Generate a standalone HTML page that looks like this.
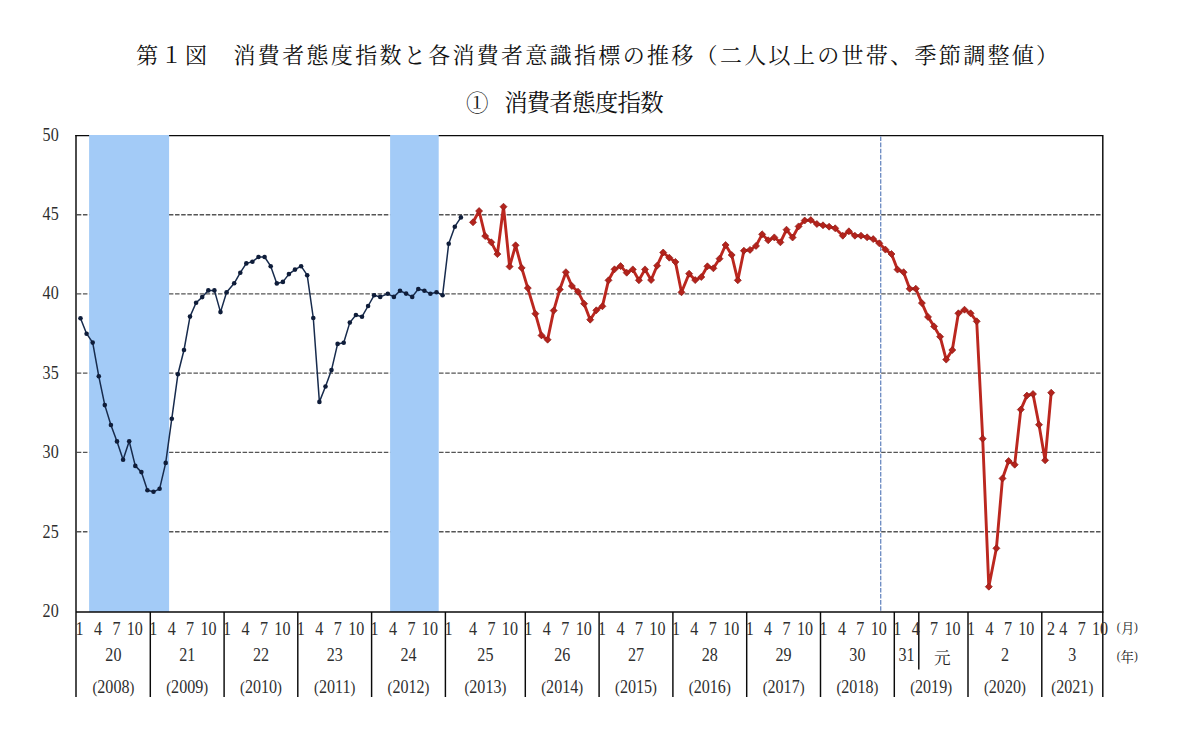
<!DOCTYPE html>
<html lang="ja"><head><meta charset="utf-8"><title>第１図 消費者態度指数</title>
<style>html,body{margin:0;padding:0;background:#fff}body{width:1200px;height:731px;overflow:hidden;font-family:"Liberation Serif",serif}</style>
</head><body>
<svg width="1200" height="731" viewBox="0 0 1200 731" style="display:block">
<rect width="1200" height="731" fill="#fff"/>
<g stroke="#555" stroke-width="1.35" stroke-dasharray="4.5 1.64" fill="none">
<path d="M76.8 214.7H1102.8"/>
<path d="M76.8 293.9H1102.8"/>
<path d="M76.8 373.1H1102.8"/>
<path d="M76.8 452.4H1102.8"/>
<path d="M76.8 531.7H1102.8"/>
</g>
<path d="M75.3 135.6H1102.8V697.0" fill="none" stroke="#0a0a0a" stroke-width="1.45"/>
<rect x="89.1" y="135.0" width="80.0" height="477.0" fill="#a3cbf7"/>
<rect x="390.1" y="135.0" width="48.6" height="477.0" fill="#a3cbf7"/>
<path d="M76.0 134.9V697.0M75.3 612.0H1103.5" fill="none" stroke="#0a0a0a" stroke-width="1.45"/>
<path d="M150.3 612.0V697M224.1 612.0V697M297.8 612.0V697M371.6 612.0V697M445.4 612.0V697M525.3 612.0V697M599.1 612.0V697M672.9 612.0V697M746.7 612.0V697M820.5 612.0V697M894.3 612.0V697M968.0 612.0V697M1041.8 612.0V697M918.8 612.0V669.5" fill="none" stroke="#0a0a0a" stroke-width="1.45"/>
<path d="M880.75 136.5V611" fill="none" stroke="#4f74b6" stroke-width="1.1" stroke-dasharray="4.6 1.5"/>
<polyline fill="none" stroke="#172b4d" stroke-width="1.5" stroke-linejoin="round" points="80.5,318.2 86.6,333.7 92.7,342.6 98.8,376.3 104.8,405.1 110.9,425.0 117.0,441.4 123.1,459.8 129.2,441.2 135.3,465.9 141.4,472.1 147.4,490.3 153.5,491.8 159.6,488.8 165.7,462.9 171.8,418.7 177.9,374.3 184.0,350.0 190.0,316.6 196.1,302.8 202.2,297.1 208.3,290.4 214.4,290.4 220.5,312.1 226.6,292.3 234.2,283.3 240.3,272.7 246.3,263.4 252.4,261.7 258.5,257.0 264.6,257.0 270.7,266.2 276.8,283.4 282.9,281.9 288.9,274.1 295.0,269.6 301.1,266.2 307.2,275.2 313.3,318.0 319.4,401.9 325.5,386.5 331.5,370.1 337.6,343.9 343.7,342.8 349.8,322.6 355.9,315.0 362.0,316.7 368.1,306.0 374.1,295.3 380.2,296.9 387.8,293.8 393.9,296.9 400.0,290.7 406.1,293.6 412.2,296.9 418.3,289.0 424.4,290.7 430.4,293.8 436.5,292.2 442.6,295.2 448.7,243.7 454.8,226.7 460.9,217.4"/>
<g fill="#0f1d3a"><circle cx="80.5" cy="318.2" r="2.3"/><circle cx="86.6" cy="333.7" r="2.3"/><circle cx="92.7" cy="342.6" r="2.3"/><circle cx="98.8" cy="376.3" r="2.3"/><circle cx="104.8" cy="405.1" r="2.3"/><circle cx="110.9" cy="425.0" r="2.3"/><circle cx="117.0" cy="441.4" r="2.3"/><circle cx="123.1" cy="459.8" r="2.3"/><circle cx="129.2" cy="441.2" r="2.3"/><circle cx="135.3" cy="465.9" r="2.3"/><circle cx="141.4" cy="472.1" r="2.3"/><circle cx="147.4" cy="490.3" r="2.3"/><circle cx="153.5" cy="491.8" r="2.3"/><circle cx="159.6" cy="488.8" r="2.3"/><circle cx="165.7" cy="462.9" r="2.3"/><circle cx="171.8" cy="418.7" r="2.3"/><circle cx="177.9" cy="374.3" r="2.3"/><circle cx="184.0" cy="350.0" r="2.3"/><circle cx="190.0" cy="316.6" r="2.3"/><circle cx="196.1" cy="302.8" r="2.3"/><circle cx="202.2" cy="297.1" r="2.3"/><circle cx="208.3" cy="290.4" r="2.3"/><circle cx="214.4" cy="290.4" r="2.3"/><circle cx="220.5" cy="312.1" r="2.3"/><circle cx="226.6" cy="292.3" r="2.3"/><circle cx="234.2" cy="283.3" r="2.3"/><circle cx="240.3" cy="272.7" r="2.3"/><circle cx="246.3" cy="263.4" r="2.3"/><circle cx="252.4" cy="261.7" r="2.3"/><circle cx="258.5" cy="257.0" r="2.3"/><circle cx="264.6" cy="257.0" r="2.3"/><circle cx="270.7" cy="266.2" r="2.3"/><circle cx="276.8" cy="283.4" r="2.3"/><circle cx="282.9" cy="281.9" r="2.3"/><circle cx="288.9" cy="274.1" r="2.3"/><circle cx="295.0" cy="269.6" r="2.3"/><circle cx="301.1" cy="266.2" r="2.3"/><circle cx="307.2" cy="275.2" r="2.3"/><circle cx="313.3" cy="318.0" r="2.3"/><circle cx="319.4" cy="401.9" r="2.3"/><circle cx="325.5" cy="386.5" r="2.3"/><circle cx="331.5" cy="370.1" r="2.3"/><circle cx="337.6" cy="343.9" r="2.3"/><circle cx="343.7" cy="342.8" r="2.3"/><circle cx="349.8" cy="322.6" r="2.3"/><circle cx="355.9" cy="315.0" r="2.3"/><circle cx="362.0" cy="316.7" r="2.3"/><circle cx="368.1" cy="306.0" r="2.3"/><circle cx="374.1" cy="295.3" r="2.3"/><circle cx="380.2" cy="296.9" r="2.3"/><circle cx="387.8" cy="293.8" r="2.3"/><circle cx="393.9" cy="296.9" r="2.3"/><circle cx="400.0" cy="290.7" r="2.3"/><circle cx="406.1" cy="293.6" r="2.3"/><circle cx="412.2" cy="296.9" r="2.3"/><circle cx="418.3" cy="289.0" r="2.3"/><circle cx="424.4" cy="290.7" r="2.3"/><circle cx="430.4" cy="293.8" r="2.3"/><circle cx="436.5" cy="292.2" r="2.3"/><circle cx="442.6" cy="295.2" r="2.3"/><circle cx="448.7" cy="243.7" r="2.3"/><circle cx="454.8" cy="226.7" r="2.3"/><circle cx="460.9" cy="217.4" r="2.3"/></g>
<polyline fill="none" stroke="#bb271f" stroke-width="2.9" stroke-linejoin="round" points="473.0,222.3 479.1,211.0 485.2,236.1 491.3,242.3 497.4,254.1 503.5,206.7 509.6,266.6 515.6,245.3 521.7,267.9 527.8,288.1 535.4,313.7 541.5,335.4 547.6,339.7 553.7,310.6 559.8,289.4 565.9,272.2 571.9,286.0 578.0,291.7 584.1,303.7 590.2,319.7 596.3,310.3 602.4,306.3 608.5,280.3 614.5,269.3 620.6,266.1 626.7,272.7 632.8,269.4 638.9,280.3 645.0,269.4 651.1,280.0 657.1,265.7 663.2,252.5 669.3,257.7 675.4,261.9 681.5,292.3 689.1,273.7 695.2,280.1 701.3,277.0 707.4,266.3 713.4,268.3 719.5,258.7 725.6,245.0 731.7,255.0 737.8,280.3 743.9,250.7 750.0,249.9 756.0,245.9 762.1,234.3 768.2,240.3 774.3,237.4 780.4,242.3 786.5,229.7 792.6,237.5 798.6,226.4 804.7,220.5 810.8,220.1 816.9,224.0 823.0,225.3 829.1,226.7 835.2,228.3 842.8,235.7 848.9,231.3 854.9,235.7 861.0,235.7 867.1,237.3 873.2,239.1 879.3,243.3 885.4,249.6 891.5,254.0 897.5,269.6 903.6,272.2 909.7,288.8 915.8,288.7 921.9,303.1 928.0,316.9 934.1,326.4 940.1,336.7 946.2,359.6 952.3,350.0 958.4,313.3 964.5,309.7 970.6,313.3 976.7,321.3 982.7,438.7 988.8,586.7 996.4,548.3 1002.5,478.4 1008.6,461.0 1014.7,464.7 1020.8,409.6 1026.9,395.6 1033.0,394.0 1039.0,424.7 1045.1,460.3 1051.2,392.7"/>
<path fill="#b3231c" stroke="#8e1a15" stroke-width="0.7" stroke-linejoin="miter" d="M473.0 218.8l3.5 3.5l-3.5 3.5l-3.5 -3.5zM479.1 207.5l3.5 3.5l-3.5 3.5l-3.5 -3.5zM485.2 232.6l3.5 3.5l-3.5 3.5l-3.5 -3.5zM491.3 238.8l3.5 3.5l-3.5 3.5l-3.5 -3.5zM497.4 250.6l3.5 3.5l-3.5 3.5l-3.5 -3.5zM503.5 203.2l3.5 3.5l-3.5 3.5l-3.5 -3.5zM509.6 263.1l3.5 3.5l-3.5 3.5l-3.5 -3.5zM515.6 241.8l3.5 3.5l-3.5 3.5l-3.5 -3.5zM521.7 264.4l3.5 3.5l-3.5 3.5l-3.5 -3.5zM527.8 284.6l3.5 3.5l-3.5 3.5l-3.5 -3.5zM535.4 310.2l3.5 3.5l-3.5 3.5l-3.5 -3.5zM541.5 331.9l3.5 3.5l-3.5 3.5l-3.5 -3.5zM547.6 336.2l3.5 3.5l-3.5 3.5l-3.5 -3.5zM553.7 307.1l3.5 3.5l-3.5 3.5l-3.5 -3.5zM559.8 285.9l3.5 3.5l-3.5 3.5l-3.5 -3.5zM565.9 268.7l3.5 3.5l-3.5 3.5l-3.5 -3.5zM571.9 282.5l3.5 3.5l-3.5 3.5l-3.5 -3.5zM578.0 288.2l3.5 3.5l-3.5 3.5l-3.5 -3.5zM584.1 300.2l3.5 3.5l-3.5 3.5l-3.5 -3.5zM590.2 316.2l3.5 3.5l-3.5 3.5l-3.5 -3.5zM596.3 306.8l3.5 3.5l-3.5 3.5l-3.5 -3.5zM602.4 302.8l3.5 3.5l-3.5 3.5l-3.5 -3.5zM608.5 276.8l3.5 3.5l-3.5 3.5l-3.5 -3.5zM614.5 265.8l3.5 3.5l-3.5 3.5l-3.5 -3.5zM620.6 262.6l3.5 3.5l-3.5 3.5l-3.5 -3.5zM626.7 269.2l3.5 3.5l-3.5 3.5l-3.5 -3.5zM632.8 265.9l3.5 3.5l-3.5 3.5l-3.5 -3.5zM638.9 276.8l3.5 3.5l-3.5 3.5l-3.5 -3.5zM645.0 265.9l3.5 3.5l-3.5 3.5l-3.5 -3.5zM651.1 276.5l3.5 3.5l-3.5 3.5l-3.5 -3.5zM657.1 262.2l3.5 3.5l-3.5 3.5l-3.5 -3.5zM663.2 249.0l3.5 3.5l-3.5 3.5l-3.5 -3.5zM669.3 254.2l3.5 3.5l-3.5 3.5l-3.5 -3.5zM675.4 258.4l3.5 3.5l-3.5 3.5l-3.5 -3.5zM681.5 288.8l3.5 3.5l-3.5 3.5l-3.5 -3.5zM689.1 270.2l3.5 3.5l-3.5 3.5l-3.5 -3.5zM695.2 276.6l3.5 3.5l-3.5 3.5l-3.5 -3.5zM701.3 273.5l3.5 3.5l-3.5 3.5l-3.5 -3.5zM707.4 262.8l3.5 3.5l-3.5 3.5l-3.5 -3.5zM713.4 264.8l3.5 3.5l-3.5 3.5l-3.5 -3.5zM719.5 255.2l3.5 3.5l-3.5 3.5l-3.5 -3.5zM725.6 241.5l3.5 3.5l-3.5 3.5l-3.5 -3.5zM731.7 251.5l3.5 3.5l-3.5 3.5l-3.5 -3.5zM737.8 276.8l3.5 3.5l-3.5 3.5l-3.5 -3.5zM743.9 247.2l3.5 3.5l-3.5 3.5l-3.5 -3.5zM750.0 246.4l3.5 3.5l-3.5 3.5l-3.5 -3.5zM756.0 242.4l3.5 3.5l-3.5 3.5l-3.5 -3.5zM762.1 230.8l3.5 3.5l-3.5 3.5l-3.5 -3.5zM768.2 236.8l3.5 3.5l-3.5 3.5l-3.5 -3.5zM774.3 233.9l3.5 3.5l-3.5 3.5l-3.5 -3.5zM780.4 238.8l3.5 3.5l-3.5 3.5l-3.5 -3.5zM786.5 226.2l3.5 3.5l-3.5 3.5l-3.5 -3.5zM792.6 234.0l3.5 3.5l-3.5 3.5l-3.5 -3.5zM798.6 222.9l3.5 3.5l-3.5 3.5l-3.5 -3.5zM804.7 217.0l3.5 3.5l-3.5 3.5l-3.5 -3.5zM810.8 216.6l3.5 3.5l-3.5 3.5l-3.5 -3.5zM816.9 220.5l3.5 3.5l-3.5 3.5l-3.5 -3.5zM823.0 221.8l3.5 3.5l-3.5 3.5l-3.5 -3.5zM829.1 223.2l3.5 3.5l-3.5 3.5l-3.5 -3.5zM835.2 224.8l3.5 3.5l-3.5 3.5l-3.5 -3.5zM842.8 232.2l3.5 3.5l-3.5 3.5l-3.5 -3.5zM848.9 227.8l3.5 3.5l-3.5 3.5l-3.5 -3.5zM854.9 232.2l3.5 3.5l-3.5 3.5l-3.5 -3.5zM861.0 232.2l3.5 3.5l-3.5 3.5l-3.5 -3.5zM867.1 233.8l3.5 3.5l-3.5 3.5l-3.5 -3.5zM873.2 235.6l3.5 3.5l-3.5 3.5l-3.5 -3.5zM879.3 239.8l3.5 3.5l-3.5 3.5l-3.5 -3.5zM885.4 246.1l3.5 3.5l-3.5 3.5l-3.5 -3.5zM891.5 250.5l3.5 3.5l-3.5 3.5l-3.5 -3.5zM897.5 266.1l3.5 3.5l-3.5 3.5l-3.5 -3.5zM903.6 268.7l3.5 3.5l-3.5 3.5l-3.5 -3.5zM909.7 285.3l3.5 3.5l-3.5 3.5l-3.5 -3.5zM915.8 285.2l3.5 3.5l-3.5 3.5l-3.5 -3.5zM921.9 299.6l3.5 3.5l-3.5 3.5l-3.5 -3.5zM928.0 313.4l3.5 3.5l-3.5 3.5l-3.5 -3.5zM934.1 322.9l3.5 3.5l-3.5 3.5l-3.5 -3.5zM940.1 333.2l3.5 3.5l-3.5 3.5l-3.5 -3.5zM946.2 356.1l3.5 3.5l-3.5 3.5l-3.5 -3.5zM952.3 346.5l3.5 3.5l-3.5 3.5l-3.5 -3.5zM958.4 309.8l3.5 3.5l-3.5 3.5l-3.5 -3.5zM964.5 306.2l3.5 3.5l-3.5 3.5l-3.5 -3.5zM970.6 309.8l3.5 3.5l-3.5 3.5l-3.5 -3.5zM976.7 317.8l3.5 3.5l-3.5 3.5l-3.5 -3.5zM982.7 435.2l3.5 3.5l-3.5 3.5l-3.5 -3.5zM988.8 583.2l3.5 3.5l-3.5 3.5l-3.5 -3.5zM996.4 544.8l3.5 3.5l-3.5 3.5l-3.5 -3.5zM1002.5 474.9l3.5 3.5l-3.5 3.5l-3.5 -3.5zM1008.6 457.5l3.5 3.5l-3.5 3.5l-3.5 -3.5zM1014.7 461.2l3.5 3.5l-3.5 3.5l-3.5 -3.5zM1020.8 406.1l3.5 3.5l-3.5 3.5l-3.5 -3.5zM1026.9 392.1l3.5 3.5l-3.5 3.5l-3.5 -3.5zM1033.0 390.5l3.5 3.5l-3.5 3.5l-3.5 -3.5zM1039.0 421.2l3.5 3.5l-3.5 3.5l-3.5 -3.5zM1045.1 456.8l3.5 3.5l-3.5 3.5l-3.5 -3.5zM1051.2 389.2l3.5 3.5l-3.5 3.5l-3.5 -3.5z"/>
<g fill="#111" font-family="'Liberation Serif', 'Noto Serif CJK SC', serif">
<text x="136.25" y="62.8" font-size="22" letter-spacing="2.32">第１図　消費者態度指数と各消費者意識指標の推移（二人以上の世帯、季節調整値）</text>
</g>
<g fill="#111" font-family="'Liberation Serif', 'Noto Serif CJK SC', serif">
<text x="466.1" y="110.5" font-size="22.5">①</text>
<text x="504.2" y="111.1" font-size="23.4" letter-spacing="-0.73">消費者態度指数</text>
</g>
<g font-family="'Liberation Serif', serif" fill="#2e2e2e">
<text transform="translate(58.7 140.6) scale(0.870 1)" text-anchor="end" font-size="18.5">50</text>
<text transform="translate(58.7 220.0) scale(0.870 1)" text-anchor="end" font-size="18.5">45</text>
<text transform="translate(58.7 299.4) scale(0.870 1)" text-anchor="end" font-size="18.5">40</text>
<text transform="translate(58.7 378.8) scale(0.870 1)" text-anchor="end" font-size="18.5">35</text>
<text transform="translate(58.7 458.2) scale(0.870 1)" text-anchor="end" font-size="18.5">30</text>
<text transform="translate(58.7 537.6) scale(0.870 1)" text-anchor="end" font-size="18.5">25</text>
<text transform="translate(58.7 617.0) scale(0.870 1)" text-anchor="end" font-size="18.5">20</text>
<text transform="translate(79.5 634.7) scale(0.870 1)" text-anchor="middle" font-size="18.5">1</text>
<text transform="translate(97.9 634.7) scale(0.870 1)" text-anchor="middle" font-size="18.5">4</text>
<text transform="translate(116.4 634.7) scale(0.870 1)" text-anchor="middle" font-size="18.5">7</text>
<text transform="translate(134.8 634.7) scale(0.870 1)" text-anchor="middle" font-size="18.5">10</text>
<text transform="translate(153.3 634.7) scale(0.870 1)" text-anchor="middle" font-size="18.5">1</text>
<text transform="translate(171.7 634.7) scale(0.870 1)" text-anchor="middle" font-size="18.5">4</text>
<text transform="translate(190.1 634.7) scale(0.870 1)" text-anchor="middle" font-size="18.5">7</text>
<text transform="translate(208.6 634.7) scale(0.870 1)" text-anchor="middle" font-size="18.5">10</text>
<text transform="translate(227.0 634.7) scale(0.870 1)" text-anchor="middle" font-size="18.5">1</text>
<text transform="translate(245.5 634.7) scale(0.870 1)" text-anchor="middle" font-size="18.5">4</text>
<text transform="translate(263.9 634.7) scale(0.870 1)" text-anchor="middle" font-size="18.5">7</text>
<text transform="translate(282.4 634.7) scale(0.870 1)" text-anchor="middle" font-size="18.5">10</text>
<text transform="translate(300.8 634.7) scale(0.870 1)" text-anchor="middle" font-size="18.5">1</text>
<text transform="translate(319.3 634.7) scale(0.870 1)" text-anchor="middle" font-size="18.5">4</text>
<text transform="translate(337.7 634.7) scale(0.870 1)" text-anchor="middle" font-size="18.5">7</text>
<text transform="translate(356.2 634.7) scale(0.870 1)" text-anchor="middle" font-size="18.5">10</text>
<text transform="translate(374.6 634.7) scale(0.870 1)" text-anchor="middle" font-size="18.5">1</text>
<text transform="translate(393.0 634.7) scale(0.870 1)" text-anchor="middle" font-size="18.5">4</text>
<text transform="translate(411.5 634.7) scale(0.870 1)" text-anchor="middle" font-size="18.5">7</text>
<text transform="translate(429.9 634.7) scale(0.870 1)" text-anchor="middle" font-size="18.5">10</text>
<text transform="translate(448.4 634.7) scale(0.870 1)" text-anchor="middle" font-size="18.5">1</text>
<text transform="translate(473.0 634.7) scale(0.870 1)" text-anchor="middle" font-size="18.5">4</text>
<text transform="translate(491.4 634.7) scale(0.870 1)" text-anchor="middle" font-size="18.5">7</text>
<text transform="translate(509.9 634.7) scale(0.870 1)" text-anchor="middle" font-size="18.5">10</text>
<text transform="translate(528.3 634.7) scale(0.870 1)" text-anchor="middle" font-size="18.5">1</text>
<text transform="translate(546.8 634.7) scale(0.870 1)" text-anchor="middle" font-size="18.5">4</text>
<text transform="translate(565.2 634.7) scale(0.870 1)" text-anchor="middle" font-size="18.5">7</text>
<text transform="translate(583.7 634.7) scale(0.870 1)" text-anchor="middle" font-size="18.5">10</text>
<text transform="translate(602.1 634.7) scale(0.870 1)" text-anchor="middle" font-size="18.5">1</text>
<text transform="translate(620.5 634.7) scale(0.870 1)" text-anchor="middle" font-size="18.5">4</text>
<text transform="translate(639.0 634.7) scale(0.870 1)" text-anchor="middle" font-size="18.5">7</text>
<text transform="translate(657.4 634.7) scale(0.870 1)" text-anchor="middle" font-size="18.5">10</text>
<text transform="translate(675.9 634.7) scale(0.870 1)" text-anchor="middle" font-size="18.5">1</text>
<text transform="translate(694.3 634.7) scale(0.870 1)" text-anchor="middle" font-size="18.5">4</text>
<text transform="translate(712.8 634.7) scale(0.870 1)" text-anchor="middle" font-size="18.5">7</text>
<text transform="translate(731.2 634.7) scale(0.870 1)" text-anchor="middle" font-size="18.5">10</text>
<text transform="translate(749.7 634.7) scale(0.870 1)" text-anchor="middle" font-size="18.5">1</text>
<text transform="translate(768.1 634.7) scale(0.870 1)" text-anchor="middle" font-size="18.5">4</text>
<text transform="translate(786.6 634.7) scale(0.870 1)" text-anchor="middle" font-size="18.5">7</text>
<text transform="translate(805.0 634.7) scale(0.870 1)" text-anchor="middle" font-size="18.5">10</text>
<text transform="translate(823.4 634.7) scale(0.870 1)" text-anchor="middle" font-size="18.5">1</text>
<text transform="translate(841.9 634.7) scale(0.870 1)" text-anchor="middle" font-size="18.5">4</text>
<text transform="translate(860.3 634.7) scale(0.870 1)" text-anchor="middle" font-size="18.5">7</text>
<text transform="translate(878.8 634.7) scale(0.870 1)" text-anchor="middle" font-size="18.5">10</text>
<text transform="translate(897.2 634.7) scale(0.870 1)" text-anchor="middle" font-size="18.5">1</text>
<text transform="translate(915.7 634.7) scale(0.870 1)" text-anchor="middle" font-size="18.5">4</text>
<text transform="translate(934.1 634.7) scale(0.870 1)" text-anchor="middle" font-size="18.5">7</text>
<text transform="translate(952.6 634.7) scale(0.870 1)" text-anchor="middle" font-size="18.5">10</text>
<text transform="translate(971.0 634.7) scale(0.870 1)" text-anchor="middle" font-size="18.5">1</text>
<text transform="translate(989.5 634.7) scale(0.870 1)" text-anchor="middle" font-size="18.5">4</text>
<text transform="translate(1007.9 634.7) scale(0.870 1)" text-anchor="middle" font-size="18.5">7</text>
<text transform="translate(1026.3 634.7) scale(0.870 1)" text-anchor="middle" font-size="18.5">10</text>
<text transform="translate(1050.9 634.7) scale(0.870 1)" text-anchor="middle" font-size="18.5">2</text>
<text transform="translate(1063.2 634.7) scale(0.870 1)" text-anchor="middle" font-size="18.5">4</text>
<text transform="translate(1081.7 634.7) scale(0.870 1)" text-anchor="middle" font-size="18.5">7</text>
<text transform="translate(1100.1 634.7) scale(0.870 1)" text-anchor="middle" font-size="18.5">10</text>
<text transform="translate(113.4 661.3) scale(0.870 1)" text-anchor="middle" font-size="18.5">20</text>
<text transform="translate(187.2 661.3) scale(0.870 1)" text-anchor="middle" font-size="18.5">21</text>
<text transform="translate(261.0 661.3) scale(0.870 1)" text-anchor="middle" font-size="18.5">22</text>
<text transform="translate(334.7 661.3) scale(0.870 1)" text-anchor="middle" font-size="18.5">23</text>
<text transform="translate(408.5 661.3) scale(0.870 1)" text-anchor="middle" font-size="18.5">24</text>
<text transform="translate(485.4 661.3) scale(0.870 1)" text-anchor="middle" font-size="18.5">25</text>
<text transform="translate(562.2 661.3) scale(0.870 1)" text-anchor="middle" font-size="18.5">26</text>
<text transform="translate(636.0 661.3) scale(0.870 1)" text-anchor="middle" font-size="18.5">27</text>
<text transform="translate(709.8 661.3) scale(0.870 1)" text-anchor="middle" font-size="18.5">28</text>
<text transform="translate(783.6 661.3) scale(0.870 1)" text-anchor="middle" font-size="18.5">29</text>
<text transform="translate(857.4 661.3) scale(0.870 1)" text-anchor="middle" font-size="18.5">30</text>
<text transform="translate(1004.9 661.3) scale(0.870 1)" text-anchor="middle" font-size="18.5">2</text>
<text transform="translate(906.5 661.3) scale(0.870 1)" text-anchor="middle" font-size="18.5">31</text>
<text transform="translate(1072.3 661.3) scale(0.870 1)" text-anchor="middle" font-size="18.5">3</text>
<text transform="translate(113.4 693.1) scale(0.870 1)" text-anchor="middle" font-size="18.5"><tspan font-size="16.8">(</tspan>2008<tspan font-size="16.8">)</tspan></text>
<text transform="translate(187.2 693.1) scale(0.870 1)" text-anchor="middle" font-size="18.5"><tspan font-size="16.8">(</tspan>2009<tspan font-size="16.8">)</tspan></text>
<text transform="translate(261.0 693.1) scale(0.870 1)" text-anchor="middle" font-size="18.5"><tspan font-size="16.8">(</tspan>2010<tspan font-size="16.8">)</tspan></text>
<text transform="translate(334.7 693.1) scale(0.870 1)" text-anchor="middle" font-size="18.5"><tspan font-size="16.8">(</tspan>2011<tspan font-size="16.8">)</tspan></text>
<text transform="translate(408.5 693.1) scale(0.870 1)" text-anchor="middle" font-size="18.5"><tspan font-size="16.8">(</tspan>2012<tspan font-size="16.8">)</tspan></text>
<text transform="translate(485.4 693.1) scale(0.870 1)" text-anchor="middle" font-size="18.5"><tspan font-size="16.8">(</tspan>2013<tspan font-size="16.8">)</tspan></text>
<text transform="translate(562.2 693.1) scale(0.870 1)" text-anchor="middle" font-size="18.5"><tspan font-size="16.8">(</tspan>2014<tspan font-size="16.8">)</tspan></text>
<text transform="translate(636.0 693.1) scale(0.870 1)" text-anchor="middle" font-size="18.5"><tspan font-size="16.8">(</tspan>2015<tspan font-size="16.8">)</tspan></text>
<text transform="translate(709.8 693.1) scale(0.870 1)" text-anchor="middle" font-size="18.5"><tspan font-size="16.8">(</tspan>2016<tspan font-size="16.8">)</tspan></text>
<text transform="translate(783.6 693.1) scale(0.870 1)" text-anchor="middle" font-size="18.5"><tspan font-size="16.8">(</tspan>2017<tspan font-size="16.8">)</tspan></text>
<text transform="translate(857.4 693.1) scale(0.870 1)" text-anchor="middle" font-size="18.5"><tspan font-size="16.8">(</tspan>2018<tspan font-size="16.8">)</tspan></text>
<text transform="translate(931.1 693.1) scale(0.870 1)" text-anchor="middle" font-size="18.5"><tspan font-size="16.8">(</tspan>2019<tspan font-size="16.8">)</tspan></text>
<text transform="translate(1004.9 693.1) scale(0.870 1)" text-anchor="middle" font-size="18.5"><tspan font-size="16.8">(</tspan>2020<tspan font-size="16.8">)</tspan></text>
<text transform="translate(1072.3 693.1) scale(0.870 1)" text-anchor="middle" font-size="18.5"><tspan font-size="16.8">(</tspan>2021<tspan font-size="16.8">)</tspan></text>
<text transform="translate(1120.6 631.3) scale(0.850 1)" text-anchor="end" font-size="13.5">(</text>
<text transform="translate(1134.0 631.3) scale(0.850 1)" text-anchor="start" font-size="13.5">)</text>
<text transform="translate(1120.6 660.3) scale(0.850 1)" text-anchor="end" font-size="13.5">(</text>
<text transform="translate(1134.0 660.3) scale(0.850 1)" text-anchor="start" font-size="13.5">)</text>
</g>
<g fill="#222" font-family="'Liberation Serif', 'Noto Serif CJK SC', serif">
<text x="933.9" y="663.9" font-size="16.6">元</text>
<text x="1120.9" y="633.2" font-size="13.5">月</text>
<text x="1120.6" y="661.7" font-size="13.5">年</text>
</g>
</svg>
</body></html>
